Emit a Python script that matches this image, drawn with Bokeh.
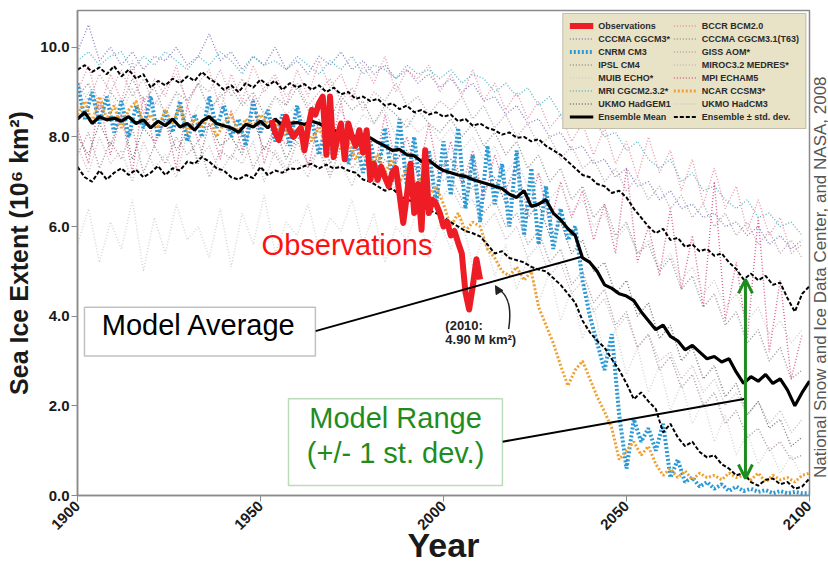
import math
from bokeh.plotting import figure
from bokeh.layouts import row
from bokeh.models import (Range1d, FixedTicker, PrintfTickFormatter, Legend, LegendItem,
                          BoxAnnotation, Label, Arrow, OpenHead, NormalHead)
from bokeh.embed import file_html
from bokeh.resources import INLINE

# ---------------- data ----------------
# Ensemble statistics, every 2 years 1900..2100
ens_start, ens_step = 1900, 2
ensemble_mean = [
    8.40, 8.55, 8.30, 8.45, 8.38, 8.42, 8.35, 8.45, 8.30, 8.38,
    8.20, 8.35, 8.25, 8.40, 8.22, 8.30, 8.15, 8.35, 8.45, 8.30,
    8.25, 8.20, 8.10, 8.28, 8.22, 8.35, 8.20, 8.40, 8.25, 8.30,
    8.32, 8.28, 8.35, 8.30, 8.20, 8.15, 8.10, 8.05, 8.00, 7.95,
    7.98, 7.88, 7.80, 7.70, 7.72, 7.60, 7.58, 7.45, 7.48, 7.35,
    7.25, 7.20, 7.15, 7.12, 7.05, 7.00, 6.95, 6.90, 6.85, 6.72,
    6.65, 6.80, 6.45, 6.50, 6.60, 6.30, 6.15, 5.95, 5.80, 5.30,
    5.20, 5.00, 4.70, 4.62, 4.50, 4.45, 4.35, 4.10, 3.90, 3.70,
    3.80, 3.55, 3.45, 3.25, 3.35, 3.20, 3.05, 3.10, 2.98, 3.05,
    2.75, 2.50, 2.65, 2.55, 2.70, 2.50, 2.60, 2.35, 2.00, 2.30,
    2.55]
ensemble_upper = [
    9.50, 9.60, 9.45, 9.55, 9.40, 9.58, 9.35, 9.50, 9.30, 9.40,
    9.10, 9.25, 9.15, 9.30, 9.20, 9.35, 9.25, 9.45, 9.30, 9.20,
    9.05, 9.15, 9.00, 9.20, 9.10, 9.28, 9.15, 9.25, 9.05, 9.20,
    9.10, 9.18, 9.05, 9.15, 9.00, 9.10, 8.95, 9.00, 8.85, 8.90,
    8.80, 8.85, 8.70, 8.75, 8.62, 8.70, 8.55, 8.60, 8.50, 8.55,
    8.45, 8.50, 8.35, 8.40, 8.25, 8.30, 8.20, 8.15, 8.05, 8.10,
    7.98, 8.00, 7.90, 7.95, 7.80, 7.70, 7.60, 7.45, 7.30, 7.15,
    7.10, 6.95, 6.90, 6.75, 6.80, 6.65, 6.40, 6.20, 6.00, 5.85,
    5.95, 5.70, 5.75, 5.55, 5.60, 5.45, 5.50, 5.35, 5.40, 5.20,
    5.05, 4.82, 4.95, 4.80, 4.90, 4.70, 4.75, 4.40, 4.10, 4.50,
    4.67]
ensemble_lower = [
    7.33, 7.10, 7.00, 7.25, 7.05, 7.20, 7.30, 7.15, 7.27, 7.10,
    7.20, 7.35, 7.15, 7.30, 7.25, 7.45, 7.40, 7.55, 7.45, 7.30,
    7.25, 7.10, 7.05, 7.15, 7.08, 7.33, 7.15, 7.25, 7.20, 7.30,
    7.28, 7.35, 7.40, 7.30, 7.38, 7.30, 7.33, 7.25, 7.20, 7.05,
    7.00, 6.90, 6.80, 6.85, 6.70, 6.60, 6.55, 6.45, 6.37, 6.30,
    6.20, 6.10, 6.00, 5.90, 5.85, 5.78, 5.60, 5.40, 5.45, 5.30,
    5.25, 5.20, 5.10, 5.04, 5.00, 4.85, 4.70, 4.50, 4.30, 3.90,
    3.64, 3.45, 3.30, 3.04, 2.80, 2.50, 2.15, 2.30, 2.10, 1.93,
    1.41, 1.60, 1.30, 1.10, 1.20, 0.97, 0.85, 0.90, 0.70, 0.60,
    0.45, 0.50, 0.30, 0.22, 0.35, 0.38, 0.25, 0.30, 0.15, 0.20,
    0.38]
# Highlighted models, every 2 years 1900..2100
cnrm_cm3 = [
    9.20, 8.40, 9.00, 8.30, 8.90, 8.10, 8.80, 8.00, 8.70, 8.20,
    8.90, 8.00, 8.60, 8.10, 8.80, 7.90, 8.50, 8.00, 8.90, 8.20,
    8.70, 8.00, 8.40, 7.80, 8.80, 8.10, 8.60, 7.90, 8.50, 7.80,
    8.70, 7.90, 8.40, 7.60, 8.30, 7.50, 8.20, 7.40, 8.00, 7.20,
    7.90, 7.10, 8.20, 7.00, 8.40, 6.90, 8.00, 6.60, 7.70, 6.50,
    7.90, 6.70, 8.20, 6.40, 7.60, 6.10, 7.80, 6.50, 7.40, 6.00,
    7.70, 5.80, 7.30, 5.60, 6.90, 5.50, 6.40, 5.70, 6.00, 4.80,
    4.00, 3.40, 2.80, 3.60, 1.80, 0.60, 1.70, 1.20, 1.50, 1.00,
    1.60, 0.40, 0.80, 0.30, 0.40, 0.20, 0.30, 0.15, 0.25, 0.10,
    0.20, 0.10, 0.15, 0.08, 0.12, 0.05, 0.10, 0.05, 0.08, 0.05,
    0.05]
ncar_ccsm3 = [
    8.50, 8.80, 8.30, 8.90, 8.40, 8.70, 8.20, 8.60, 8.80, 8.30,
    8.50, 8.20, 8.60, 8.30, 8.70, 8.10, 8.40, 8.20, 8.50, 8.00,
    8.30, 8.50, 8.10, 8.40, 8.20, 8.50, 8.30, 8.40, 8.00, 8.20,
    8.10, 8.30, 7.90, 8.20, 7.80, 8.00, 7.70, 7.90, 7.50, 7.80,
    7.40, 7.60, 7.20, 7.50, 7.00, 7.30, 6.80, 7.10, 6.70, 6.90,
    6.50, 6.00, 6.30, 5.90, 6.10, 6.00, 5.50, 5.30, 5.00, 4.90,
    5.10, 4.80, 5.00, 4.20, 3.80, 3.40, 2.90, 2.45, 2.80, 3.00,
    2.60, 2.20, 1.87, 1.50, 0.80, 1.00, 1.20, 0.90, 1.10, 0.70,
    0.45, 0.60, 0.40, 0.55, 0.35, 0.50, 0.40, 0.45, 0.35, 0.50,
    0.40, 0.45, 0.35, 0.50, 0.30, 0.45, 0.35, 0.40, 0.30, 0.45,
    0.50]
# Other models, every 3 years 1900..2098
mdl_start, mdl_step = 1900, 3
cccma_cgcm3 = [
    9.9, 10.5, 9.7, 10.0, 9.6, 9.9, 9.5, 9.8, 9.7, 10.0,
    9.6, 9.8, 10.3, 9.7, 9.9, 9.5, 9.8, 9.6, 10.0, 9.5,
    9.7, 9.4, 9.8, 9.6, 9.9, 9.5, 9.7, 9.4, 9.6, 9.3,
    9.5, 9.2, 9.4, 9.1,
    9.3, 9.0, 9.2, 8.8, 8.9, 8.5, 8.7, 8.3, 8.4, 8.0,
    8.1, 7.7, 7.8, 7.4, 7.5, 7.1, 7.3, 6.9, 7.0, 6.6,
    6.8, 6.4, 6.5, 6.2, 6.3, 6.0, 6.1, 5.8, 6.0, 5.6,
    5.8, 5.5, 5.7]
mri_cgcm232 = [
    9.7, 9.9, 9.6, 9.8, 9.9, 9.5, 9.8, 9.6, 9.9, 9.7,
    9.5, 9.8, 9.6, 9.9, 9.7, 9.4, 9.8, 9.6, 9.7, 9.5,
    9.8, 9.6, 9.4, 9.7, 9.5, 9.8, 9.4, 9.6, 9.5, 9.3,
    9.6, 9.4, 9.5, 9.3,
    9.5, 9.2, 9.4, 9.3, 9.0, 9.2, 8.9, 9.1, 8.7, 8.9,
    8.5, 8.6, 8.3, 8.4, 8.0, 8.1, 7.7, 7.9, 7.5, 7.3,
    7.5, 7.0, 7.2, 6.8, 6.9, 6.6, 6.4, 6.6, 6.2, 6.3,
    6.0, 6.1, 5.8]
bccr_bcm20 = [
    9.0, 9.6, 8.6, 9.4, 8.8, 9.7, 8.5, 9.3, 8.9, 9.6,
    8.7, 9.2, 9.5, 8.6, 9.4, 8.8, 9.6, 9.0, 9.3, 8.7,
    9.5, 8.9, 9.7, 9.1, 9.4, 8.8, 9.6, 9.2, 9.8, 9.0,
    9.5, 9.3, 9.6, 9.0,
    9.4, 8.9, 9.5, 8.8, 9.2, 8.6, 9.0, 8.4, 8.8, 8.2,
    8.5, 7.9, 8.3, 7.6, 8.2, 7.4, 7.9, 7.1, 8.0, 7.2,
    7.7, 6.8, 7.5, 6.5, 7.3, 6.4, 6.9, 5.9, 6.6, 5.8,
    6.2, 5.4, 5.6]
mpi_echam5 = [
    8.2, 7.4, 8.8, 7.6, 8.5, 7.2, 8.9, 7.8, 8.4, 7.3,
    8.7, 7.9, 8.3, 7.5, 8.6, 7.7, 8.9, 7.4, 8.2, 7.8,
    8.6, 7.3, 8.4, 7.6, 8.8, 7.5, 8.1, 7.2, 8.5, 7.4,
    8.0, 7.1, 8.3, 7.0,
    7.9, 6.9, 7.7, 6.6, 7.6, 6.8, 7.4, 6.3, 7.2, 6.0,
    7.0, 6.2, 6.8, 5.7, 6.5, 5.4, 7.3, 5.2, 6.0, 4.9,
    6.4, 4.6, 5.8, 4.2, 7.0, 3.9, 5.2, 3.5, 6.2, 3.2,
    4.8, 2.6, 3.6]
ipsl_cm4 = [
    8.9, 9.2, 8.6, 9.0, 8.7, 9.3, 8.8, 9.1, 8.5, 9.0,
    8.8, 9.2, 8.6, 8.9, 9.1, 8.7, 9.0, 8.5, 8.9, 8.7,
    9.1, 8.6, 8.8, 8.4, 8.9, 8.6, 8.8, 8.3, 8.7, 8.5,
    8.2, 8.6, 8.3, 8.1,
    8.4, 8.0, 8.3, 7.8, 8.1, 7.6, 7.9, 7.3, 7.6, 7.0,
    7.3, 6.6, 6.9, 6.2, 6.5, 5.8, 6.1, 5.4, 5.6, 5.0,
    5.3, 4.6, 4.9, 4.2, 4.5, 3.8, 4.1, 3.4, 3.7, 3.0,
    3.3, 2.6, 2.8]
muib_echo = [
    5.6, 6.4, 5.2, 6.1, 5.5, 6.6, 5.0, 6.2, 5.4, 6.5,
    5.7, 6.0, 5.3, 6.4, 5.1, 6.3, 5.6, 6.7, 5.4, 6.1,
    5.8, 6.5, 5.5, 6.2, 5.9, 6.6, 5.6, 6.3, 5.2, 6.0,
    5.7, 6.4, 5.3, 6.1,
    5.5, 6.2, 5.1, 5.8, 4.9, 5.6, 4.6, 5.3, 4.3, 5.0,
    3.9, 4.6, 3.5, 4.2, 3.1, 3.7, 2.7, 3.3, 2.3, 2.9,
    1.9, 2.5, 1.6, 2.1, 1.2, 1.8, 0.9, 1.4, 0.7, 1.1,
    0.5, 0.9, 0.4]
ukmo_hadgem1 = [
    8.0, 7.6, 8.3, 7.8, 8.5, 7.5, 8.2, 7.9, 8.4, 7.7,
    8.1, 7.4, 8.3, 7.8, 8.0, 7.6, 8.4, 7.7, 8.2, 7.5,
    8.0, 7.8, 8.3, 7.4, 7.9, 7.6, 8.1, 7.3, 7.8, 7.5,
    7.7, 7.2, 7.6, 7.3,
    7.5, 7.0, 7.3, 6.8, 7.1, 6.5, 6.8, 6.2, 6.5, 5.8,
    6.1, 5.4, 5.7, 5.0, 5.2, 4.5, 4.8, 4.0, 4.3, 3.5,
    3.8, 3.0, 3.3, 2.6, 2.9, 2.2, 2.5, 1.8, 2.1, 1.5,
    1.7, 1.1, 1.3]
cccma_t63 = [
    7.6, 8.1, 7.3, 7.9, 7.5, 8.2, 7.2, 7.8, 7.4, 8.0,
    7.6, 7.9, 7.1, 7.7, 7.5, 8.1, 7.3, 7.8, 7.6, 7.2,
    7.9, 7.4, 7.7, 7.1, 7.8, 7.3, 7.6, 7.0, 7.5, 7.2,
    7.4, 6.9, 7.3, 7.0,
    7.1, 6.6, 6.9, 6.3, 6.6, 6.0, 6.3, 5.6, 5.9, 5.2,
    5.5, 4.7, 5.0, 4.3, 4.6, 3.8, 4.1, 3.3, 3.6, 2.8,
    3.1, 2.4, 2.7, 2.0, 2.3, 1.6, 1.9, 1.3, 1.5, 1.0,
    1.2, 0.8, 0.9]
giss_aom = [
    9.2, 8.8, 9.4, 9.0, 9.5, 8.9, 9.3, 8.7, 9.1, 9.4,
    8.8, 9.2, 9.0, 9.5, 8.9, 9.3, 8.6, 9.1, 9.4, 8.9,
    9.2, 8.7, 9.0, 9.3, 8.8, 9.1, 8.6, 9.0, 8.8, 9.2,
    8.7, 8.9, 8.5, 8.8,
    8.6, 8.9, 8.4, 8.7, 8.2, 8.5, 8.0, 8.3, 7.8, 8.0,
    7.5, 7.8, 7.3, 7.5, 7.0, 7.3, 6.8, 7.1, 6.6, 6.9,
    6.4, 6.7, 6.2, 6.5, 6.0, 6.3, 5.8, 6.1, 5.6, 5.9,
    5.4, 5.7, 5.3]
miroc32_medres = [
    7.8, 7.2, 8.0, 7.4, 7.7, 7.0, 7.9, 7.3, 7.6, 7.1,
    8.1, 7.5, 7.8, 7.2, 7.6, 7.4, 7.9, 7.0, 7.7, 7.3,
    7.5, 7.1, 7.8, 7.2, 7.4, 6.9, 7.6, 7.0, 7.3, 6.8,
    7.2, 6.7, 7.0, 6.6,
    6.9, 6.4, 6.6, 6.0, 6.3, 5.7, 6.0, 5.3, 5.6, 4.9,
    5.2, 4.5, 4.8, 4.1, 4.4, 3.7, 4.0, 3.3, 3.6, 3.0,
    3.2, 2.6, 2.9, 2.3, 2.6, 2.0, 2.3, 1.8, 2.1, 1.6,
    1.9, 1.4, 1.7]
ukmo_hadcm3 = [
    8.6, 9.0, 8.4, 8.9, 8.5, 9.1, 8.3, 8.8, 8.6, 9.0,
    8.2, 8.7, 8.5, 9.0, 8.4, 8.8, 8.6, 8.3, 8.9, 8.5,
    8.7, 8.2, 8.8, 8.4, 8.6, 8.1, 8.5, 8.3, 8.6, 8.0,
    8.4, 8.1, 8.3, 7.9,
    8.2, 7.7, 8.0, 7.5, 7.8, 7.2, 7.5, 6.9, 7.2, 6.6,
    6.9, 6.3, 6.6, 6.0, 6.3, 5.7, 6.0, 5.4, 5.7, 5.1,
    5.4, 4.8, 5.1, 4.5, 4.8, 4.2, 4.5, 3.9, 4.2, 3.6,
    3.9, 3.4, 3.7]
# Observations, yearly 1953..2010
obs_start = 1953
observations = [
    8.38, 8.10, 7.93, 8.20, 8.45, 8.15, 8.00, 8.10, 8.20, 7.70,
    8.20, 8.60, 8.50, 8.75, 8.90, 7.60, 8.90, 7.55, 8.00, 8.30,
    7.50, 8.30, 8.00, 7.80, 8.15, 7.65, 8.15, 7.05, 7.40, 7.04,
    7.33, 7.10, 6.90, 7.20, 7.30, 6.70, 6.08, 6.70, 7.40, 6.30,
    6.95, 5.93, 7.70, 6.30, 6.60, 6.50, 6.30, 6.00, 6.10, 5.80,
    5.90, 5.64, 5.40, 4.53, 4.15, 4.67, 5.27, 4.82]

x_ticks = [1900, 1950, 2000, 2050, 2100]
y_ticks = [0, 2, 4, 6, 8, 10]
CREDIT = "National Snow and Ice Data Center, and NASA, 2008"


def years(start, step, vals):
    return list(range(start, start + step * len(vals), step))


SANS = "Liberation Sans"

# ---------------- figure ----------------
p = figure(width=812, height=567, x_range=Range1d(1900, 2100), y_range=Range1d(0, 10.82),
           output_backend="svg", toolbar_location=None,
           min_border_left=77, min_border_right=3, min_border_top=10, min_border_bottom=70,
           background_fill_color="white", border_fill_color="white")
p.xgrid.visible = False
p.ygrid.visible = False
p.outline_line_color = "#8a8a8a"
p.outline_line_width = 1.5

for ax in (p.xaxis[0], p.yaxis[0]):
    ax.axis_line_color = "#8a8a8a"
    ax.axis_line_width = 1.5
    ax.major_tick_line_color = "#8a8a8a"
    ax.major_tick_out = 6
    ax.major_tick_in = 0
    ax.minor_tick_line_color = None
    ax.major_label_text_font = SANS
    ax.major_label_text_font_style = "bold"
    ax.major_label_text_font_size = "15px"
    ax.major_label_text_color = "#1a1a1a"
    ax.major_label_standoff = 2

p.xaxis.ticker = FixedTicker(ticks=x_ticks)
p.xaxis.major_label_orientation = math.pi / 4
p.xaxis.axis_label = "Year"
p.xaxis.axis_label_text_font = SANS
p.xaxis.axis_label_text_font_style = "bold"
p.xaxis.axis_label_text_font_size = "34px"
p.xaxis.axis_label_text_color = "#1a1a1a"
p.xaxis.axis_label_standoff = -11

p.yaxis.ticker = FixedTicker(ticks=y_ticks)
p.yaxis.formatter = PrintfTickFormatter(format="%.1f")
p.yaxis.axis_label = "Sea Ice Extent (10\u2076 km\u00b2)"
p.yaxis.axis_label_text_font = SANS
p.yaxis.axis_label_text_font_style = "bold"
p.yaxis.axis_label_text_font_size = "25px"
p.yaxis.axis_label_text_color = "#1a1a1a"
p.yaxis.axis_label_standoff = 4

# faint model lines
faint = [
    ("CCCMA CGCM3*", cccma_cgcm3, "#7a78b8"),
    ("BCCR BCM2.0", bccr_bcm20, "#e88aa0"),
    ("CCCMA CGCM3.1(T63)", cccma_t63, "#a08a8a"),
    ("IPSL CM4", ipsl_cm4, "#8a8a8a"),
    ("GISS AOM*", giss_aom, "#b89aa8"),
    ("MUIB ECHO*", muib_echo, "#cfcfcf"),
    ("MIROC3.2 MEDRES*", miroc32_medres, "#c4b4bc"),
    ("MRI CGCM2.3.2*", mri_cgcm232, "#4ab0c0"),
    ("MPI ECHAM5", mpi_echam5, "#d8508a"),
    ("UKMO HadGEM1", ukmo_hadgem1, "#6a6a6a"),
    ("UKMO HadCM3", ukmo_hadcm3, "#c8c8c8"),
]
r = {}
for name, vals, col in faint:
    r[name] = p.line(years(mdl_start, mdl_step, vals), vals, line_color=col,
                     line_width=1.4, line_dash="1 2", line_alpha=0.9)

r["CNRM CM3"] = p.line(years(ens_start, ens_step, cnrm_cm3), cnrm_cm3, line_color="#2a9ad6",
                       line_width=4, line_dash="2 2")
r["NCAR CCSM3*"] = p.line(years(ens_start, ens_step, ncar_ccsm3), ncar_ccsm3, line_color="#f0a032",
                          line_width=3, line_dash="2 2")
r["Ensemble \u00b1 std. dev."] = p.line(years(ens_start, ens_step, ensemble_upper), ensemble_upper,
                                       line_color="black", line_width=2, line_dash="4 2")
p.line(years(ens_start, ens_step, ensemble_lower), ensemble_lower,
       line_color="black", line_width=2, line_dash="4 2")
r["Ensemble Mean"] = p.line(years(ens_start, ens_step, ensemble_mean), ensemble_mean,
                            line_color="black", line_width=3.2)
r["Observations"] = p.line(years(obs_start, 1, observations), observations, line_color="#ee1c24",
                           line_width=6, line_join="round")

order = ["Observations", "CCCMA CGCM3*", "CNRM CM3", "IPSL CM4", "MUIB ECHO*", "MRI CGCM2.3.2*",
         "UKMO HadGEM1", "Ensemble Mean",
         "BCCR BCM2.0", "CCCMA CGCM3.1(T63)", "GISS AOM*", "MIROC3.2 MEDRES*", "MPI ECHAM5",
         "NCAR CCSM3*", "UKMO HadCM3", "Ensemble \u00b1 std. dev."]
legend = Legend(items=[LegendItem(label=n, renderers=[r[n]]) for n in order], ncols=2,
                location="top_right", margin=3, padding=6, spacing=2, label_height=11,
                glyph_height=11, glyph_width=24, label_standoff=5,
                label_text_font=SANS, label_text_font_size="9px", label_text_font_style="bold",
                label_text_color="#2a2a2a", background_fill_color="#e8e3c6",
                background_fill_alpha=1.0, border_line_color="#9a9a9a", border_line_width=1.5)
p.add_layout(legend)

# ---------------- annotations ----------------
GREEN = "#1f8c1f"
p.add_layout(BoxAnnotation(left=1901.9, right=1965.0, bottom=3.11, top=4.2, fill_color="white",
                           fill_alpha=1, line_color="#333333", line_width=1.5))
p.add_layout(Label(x=1933.2, y=3.44, text="Model Average", text_align="center",
                   text_font=SANS, text_font_size="29px", text_color="black"))
p.add_layout(BoxAnnotation(left=1957.65, right=2016.1, bottom=0.222, top=2.156, fill_color="white",
                           fill_alpha=1, line_color=GREEN, line_width=1.5))
p.add_layout(Label(x=1986.9, y=1.38, text="Model Range", text_align="center",
                   text_font=SANS, text_font_size="29px", text_color=GREEN))
p.add_layout(Label(x=1986.9, y=0.60, text="(+/- 1 st. dev.)", text_align="center",
                   text_font=SANS, text_font_size="29px", text_color=GREEN))
p.add_layout(Label(x=1950.3, y=5.24, text="Observations", text_align="left",
                   text_font=SANS, text_font_size="29px", text_color="#ff1010"))
p.add_layout(Label(x=2000.5, y=3.62, text="(2010:", text_font=SANS, text_font_style="bold",
                   text_font_size="13px", text_color="#222222"))
p.add_layout(Label(x=2000.5, y=3.31, text="4.90 M km\u00b2)", text_font=SANS, text_font_style="bold",
                   text_font_size="13px", text_color="#222222"))

# pointer lines
p.line([1965.0, 2038.0], [3.667, 5.333], line_color="black", line_width=2)
p.line([2016.1, 2082.5], [1.2, 2.156], line_color="black", line_width=2)
# curved arrow to 2010 observation
p.quadratic(x0=[2017.8], y0=[3.71], x1=[2014.5], y1=[4.62], cx=[2019.2], cy=[4.45],
            line_color="#222222", line_width=1.5)
p.add_layout(Arrow(x_start=2015.0, y_start=4.57, x_end=2014.2, y_end=4.68,
                   end=NormalHead(size=8, fill_color="#222222", line_color="#222222"),
                   line_color="#222222", line_width=1.5))
# green range arrow
p.add_layout(Arrow(x_start=2082.5, y_start=0.38, x_end=2082.5, y_end=4.82,
                   start=OpenHead(size=14, line_color=GREEN, line_width=3),
                   end=OpenHead(size=14, line_color=GREEN, line_width=3),
                   line_color=GREEN, line_width=3))

# credit strip on the right (text reads bottom to top)
c = figure(width=16, height=567, x_range=Range1d(0, 1), y_range=Range1d(0, 1),
           output_backend="svg", toolbar_location=None, x_axis_location=None,
           y_axis_location=None, min_border=0, outline_line_color=None,
           background_fill_color="white", border_fill_color="white")
c.grid.visible = False
c.add_layout(Label(x=0.5, y=0.45, text=CREDIT,
                   angle=90, angle_units="deg", text_align="center", text_baseline="middle",
                   text_font=SANS, text_font_size="17px", text_color="#555555"))

layout = row(p, c, spacing=0)
open("out.html", "w").write(file_html(layout, INLINE))
